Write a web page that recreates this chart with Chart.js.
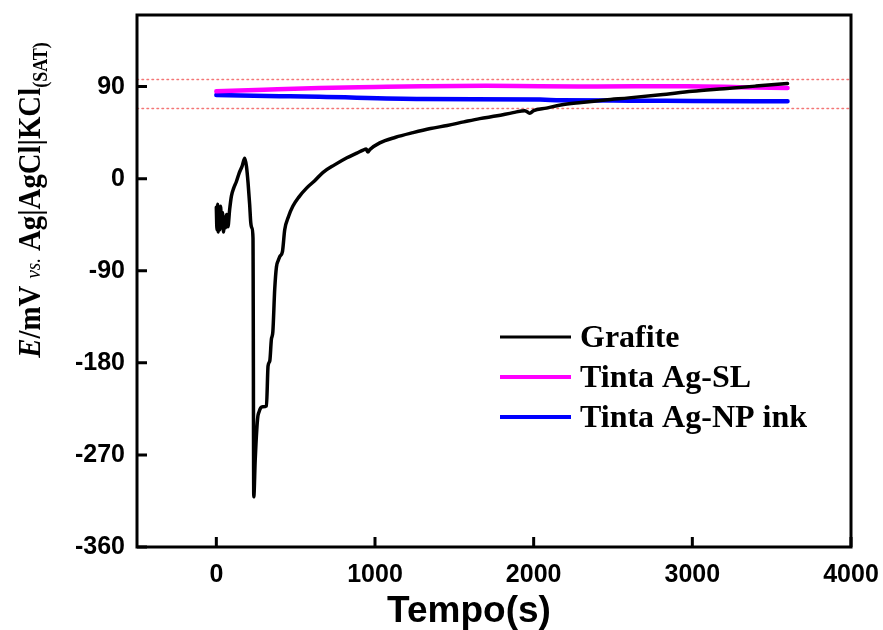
<!DOCTYPE html>
<html>
<head>
<meta charset="utf-8">
<script src="https://cdn.jsdelivr.net/npm/chart.js@4.4.1/dist/chart.umd.min.js"></script>
<style>
  html, body { margin: 0; padding: 0; background: #fff; }
  #wrap { width: 883px; height: 630px; }
</style>
</head>
<body>
<div id="wrap"><canvas id="ocp-chart" width="883" height="630"></canvas></div>
<script>
// Grafite electrode, potential (mV) vs time (s)
const grafiteTime = [0, 4, 8, 12, 17, 22, 27, 33, 39, 45, 52, 58, 65, 73, 84, 95, 110, 126, 145, 162, 179, 190, 200, 210, 217, 224, 231,
  236, 245, 255, 262, 269, 280, 292, 316, 326, 337, 347, 356, 368, 379, 390, 400, 417, 431, 455, 482, 520, 570, 620, 671, 745, 823,
  885, 925, 945, 955, 968, 1030, 1130, 1240, 1350, 1455, 1560, 1660, 1770, 1870, 1945, 1975, 2000, 2080, 2170, 2300, 2450, 2600,
  2800, 3000, 3200, 3400, 3600];
const grafiteE = [-28, -50, -25, -52, -30, -50, -27, -48, -33, -52, -38, -48, -35, -47, -30, -17, -9, -3, 6, 12, 20, 12, -4, -25, -43, -48, -58,
  -311, -275, -245, -232, -228, -224, -223, -222, -183, -178, -157, -150, -108, -86, -80, -76, -71, -50, -37, -27, -18, -9, -2, 6, 13.5, 20.5,
  25, 28, 29, 26, 28.5, 35, 40.5, 45, 49, 52, 55.5, 58.7, 61.5, 64.6, 66.5, 64, 66.5, 69, 72, 74.5, 77, 79,
  82, 85.5, 88, 90.5, 93];

// Tinta Ag-SL
const slTime = [0, 300, 650, 1000, 1300, 1700, 2040, 2400, 2970, 3300, 3600];
const slE = [85.4, 87, 88.7, 89.6, 90.3, 90.8, 90.3, 90.2, 90.3, 89.5, 88.7];

// Tinta Ag-NP ink
const npTime = [0, 400, 650, 1300, 2040, 2170, 2600, 3000, 3600];
const npE = [81.8, 80.7, 80, 78, 77.3, 76.6, 76.3, 76, 75.6];

// dotted reference levels
const refLevels = [97, 68.5];

const xTicks = [0, 1000, 2000, 3000, 4000];
const yTicks = [-360, -270, -180, -90, 0, 90];
const seriesLabels = ['Grafite', 'Tinta Ag-SL', 'Tinta Ag-NP ink'];
const seriesColors = ['#000000', '#ff00ff', '#0000ff'];
const seriesWidths = [3.5, 4.5, 4.5];

const X_MIN = -500, X_MAX = 4000;

function toPoints(xs, ys) {
  return xs.map((x, i) => ({ x: x, y: ys[i] }));
}

const serif = '"Liberation Serif", "Times New Roman", serif';
const sans = '"Liberation Sans", Arial, sans-serif';

// frame + inward ticks
const framePlugin = {
  id: 'frame',
  afterDatasetsDraw(chart) {
    const { ctx, chartArea: a, scales } = chart;
    ctx.save();
    ctx.strokeStyle = '#000';
    ctx.lineWidth = 3;
    ctx.strokeRect(a.left, a.top, a.right - a.left, a.bottom - a.top);
    ctx.beginPath();
    scales.x.ticks.forEach(t => {
      const px = scales.x.getPixelForValue(t.value);
      ctx.moveTo(px, a.bottom);
      ctx.lineTo(px, a.bottom - 10);
    });
    scales.y.ticks.forEach(t => {
      const py = scales.y.getPixelForValue(t.value);
      ctx.moveTo(a.left, py);
      ctx.lineTo(a.left + 10, py);
    });
    ctx.stroke();
    ctx.restore();
  }
};

// legend inside the plot
const legendPlugin = {
  id: 'innerLegend',
  afterDraw(chart) {
    const ctx = chart.ctx;
    ctx.save();
    ctx.font = 'bold 32px ' + serif;
    ctx.textBaseline = 'alphabetic';
    ctx.fillStyle = '#000';
    seriesLabels.forEach((label, i) => {
      const y = 337 + i * 40;
      ctx.strokeStyle = seriesColors[i];
      ctx.lineWidth = i === 0 ? 3 : 4;
      ctx.beginPath();
      ctx.moveTo(500, y);
      ctx.lineTo(571, y);
      ctx.stroke();
      ctx.fillText(label, 580, y + 10);
    });
    ctx.restore();
  }
};

// axis titles
const titlePlugin = {
  id: 'axisTitles',
  afterDraw(chart) {
    const ctx = chart.ctx;
    ctx.save();
    ctx.fillStyle = '#000';
    ctx.font = 'bold 37px ' + sans;
    ctx.textAlign = 'center';
    ctx.textBaseline = 'alphabetic';
    ctx.fillText('Tempo(s)', 469, 622);

    const parts = [
      { text: 'E', font: 'italic bold 32px ' + serif, dy: 0 },
      { text: '/mV ', font: 'bold 32px ' + serif, dy: 0 },
      { text: 'vs.', font: 'italic 21px ' + serif, dy: 0 },
      { text: ' Ag|AgCl|KCl', font: 'bold 32px ' + serif, dy: 0 },
      { text: '(SAT)', font: 'bold 20px ' + serif, dy: 7 }
    ];
    let total = 0;
    parts.forEach(p => { ctx.font = p.font; p.w = ctx.measureText(p.text).width; total += p.w; });
    const sx = 0.9;
    ctx.translate(40, 200 + total * sx / 2);
    ctx.rotate(-Math.PI / 2);
    ctx.scale(sx, 1);
    ctx.textAlign = 'left';
    let x = 0;
    parts.forEach(p => {
      ctx.font = p.font;
      ctx.fillText(p.text, x, p.dy);
      x += p.w;
    });
    ctx.restore();
  }
};

const datasets = [
  {
    label: seriesLabels[0],
    data: toPoints(grafiteTime, grafiteE),
    borderColor: seriesColors[0],
    borderWidth: seriesWidths[0],
    cubicInterpolationMode: 'monotone'
  },
  {
    label: seriesLabels[1],
    data: toPoints(slTime, slE),
    borderColor: seriesColors[1],
    borderWidth: seriesWidths[1],
    cubicInterpolationMode: 'monotone'
  },
  {
    label: seriesLabels[2],
    data: toPoints(npTime, npE),
    borderColor: seriesColors[2],
    borderWidth: seriesWidths[2],
    cubicInterpolationMode: 'monotone'
  }
];

refLevels.forEach(level => {
  datasets.push({
    label: 'ref',
    data: [{ x: X_MIN, y: level }, { x: X_MAX, y: level }],
    borderColor: 'rgba(240, 60, 60, 0.7)',
    borderWidth: 1.5,
    borderDash: [1.5, 3.5]
  });
});

new Chart(document.getElementById('ocp-chart').getContext('2d'), {
  type: 'line',
  data: { datasets: datasets },
  options: {
    responsive: false,
    animation: false,
    devicePixelRatio: 1,
    layout: { padding: { top: 15, right: 32, left: 0, bottom: 0 } },
    elements: { point: { radius: 0 }, line: { borderCapStyle: 'round', borderJoinStyle: 'round' } },
    plugins: {
      legend: { display: false },
      tooltip: { enabled: false }
    },
    scales: {
      x: {
        type: 'linear',
        min: X_MIN,
        max: X_MAX,
        grid: { display: false, drawTicks: false },
        border: { display: false },
        afterBuildTicks: s => { s.ticks = xTicks.map(v => ({ value: v })); },
        afterFit: s => { s.height = 83; s.paddingLeft = 0; s.paddingRight = 0; },
        ticks: {
          padding: 13,
          color: '#000',
          maxRotation: 0,
          callback: v => String(v),
          font: { family: sans, size: 25, weight: 'bold' }
        }
      },
      y: {
        type: 'linear',
        min: -360,
        max: 160,
        grid: { display: false, drawTicks: false },
        border: { display: false },
        afterBuildTicks: s => { s.ticks = yTicks.map(v => ({ value: v })); },
        afterFit: s => { s.width = 137; s.paddingTop = 0; s.paddingBottom = 0; },
        ticks: {
          padding: 12,
          color: '#000',
          callback: v => String(v),
          font: { family: sans, size: 25, weight: 'bold' }
        }
      }
    }
  },
  plugins: [framePlugin, legendPlugin, titlePlugin]
});
</script>
</body>
</html>
